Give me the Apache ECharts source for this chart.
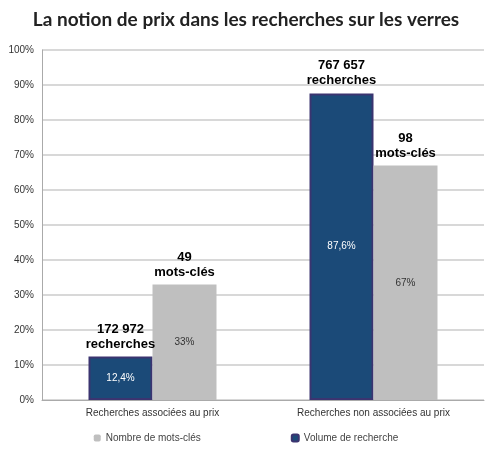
<!DOCTYPE html>
<html><head><meta charset="utf-8">
<script src="https://cdn.jsdelivr.net/npm/echarts@6/dist/echarts.min.js"></script>
<style>body{margin:0}#c{width:492px;height:450px}</style></head>
<body><div id="c"></div>
<script>
var categories = ['Recherches associées au prix', 'Recherches non associées au prix'];
var volumePct = [12.4, 87.6];
var volumeTop = ['172 972\nrecherches', '767 657\nrecherches'];
var motsPct = [33, 67];
var motsTop = ['49\nmots-clés', '98\nmots-clés'];

var chart = echarts.init(document.getElementById('c'));

var topLabel = {
    show: true, position: 'top', color: '#000', fontWeight: 'bold',
    fontSize: 13, lineHeight: 15, fontFamily: 'Liberation Sans'
};
function innerMarks(vals, color) {
    return {
        symbol: 'rect', symbolSize: 1, itemStyle: { color: 'transparent' },
        label: { show: true, color: color, fontSize: 10, formatter: '{c}%' },
        data: vals.map(function (v, i) {
            return { coord: [i, v / 2], value: String(v).replace('.', ',') };
        })
    };
}

chart.setOption({
    title: {
        text: 'La notion de prix dans les recherches sur les verres',
        left: 'center', top: 5,
        textStyle: { fontSize: 19, fontWeight: 'bold', color: '#222', fontFamily: 'Lato' }
    },
    legend: {
        bottom: 2, itemWidth: 7, itemHeight: 7, itemGap: 90,
        textStyle: { fontSize: 10, color: '#444' },
        data: ['Nombre de mots-clés', 'Volume de recherche']
    },
    grid: { left: 42, right: 8, top: 50, bottom: 50 },
    xAxis: {
        type: 'category', data: categories,
        axisLine: { lineStyle: { color: '#aaa' } },
        axisTick: { show: false },
        axisLabel: { color: '#333', fontSize: 10 }
    },
    yAxis: {
        type: 'value', min: 0, max: 100, interval: 10,
        axisLabel: { formatter: '{value}%', color: '#333', fontSize: 10 },
        axisLine: { show: true, lineStyle: { color: '#aaa' } },
        splitLine: { lineStyle: { color: '#d8d8d8', width: 2 } }
    },
    series: [{
        name: 'Volume de recherche', type: 'bar', barWidth: 64, barGap: '0%',
        data: volumePct.map(function (v, i) {
            return { value: v, label: Object.assign({}, topLabel, { formatter: volumeTop[i] }) };
        }),
        itemStyle: { color: '#1b4a78', borderColor: '#3b3470', borderWidth: 2 },
        markPoint: innerMarks(volumePct, '#fff')
    }, {
        name: 'Nombre de mots-clés', type: 'bar', barWidth: 64,
        data: motsPct.map(function (v, i) {
            return { value: v, label: Object.assign({}, topLabel, { formatter: motsTop[i] }) };
        }),
        itemStyle: { color: '#bfbfbf' },
        markPoint: innerMarks(motsPct, '#333')
    }]
});
</script></body></html>
